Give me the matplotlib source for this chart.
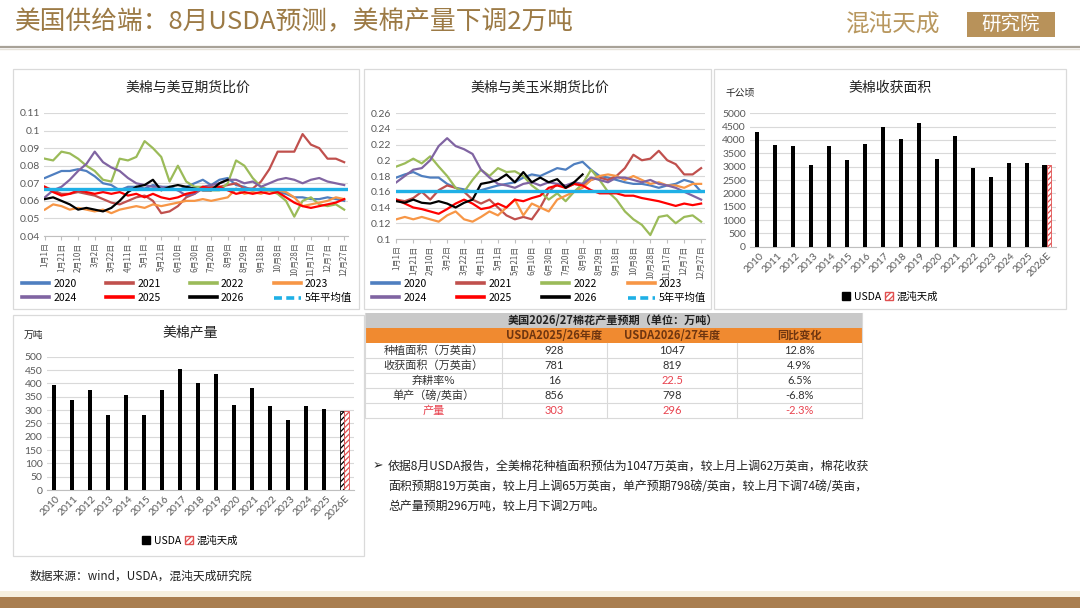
import numpy as np
import matplotlib
matplotlib.use('Agg')
import matplotlib.pyplot as plt
from matplotlib.patches import Rectangle, Patch
from matplotlib.lines import Line2D

plt.rcParams['font.family'] = ['Noto Sans CJK SC', 'DejaVu Sans']
plt.rcParams['hatch.linewidth'] = 0.9

# ---------------- data ----------------
tick_labels = ['1月1日', '1月21日', '2月10日', '3月2日', '3月22日', '4月11日', '5月1日',
               '5月21日', '6月10日', '6月30日', '7月20日', '8月9日', '8月29日', '9月18日',
               '10月8日', '10月28日', '11月17日', '12月7日', '12月27日']
series_names = ['2020', '2021', '2022', '2023', '2024', '2025', '2026']
avg_name = '5年平均值'

# cotton / soybean futures ratio, sampled every 10 days from Jan 1
soy_2020 = [0.073, 0.075, 0.077, 0.077, 0.078, 0.077, 0.074, 0.070, 0.069, 0.066,
            0.068, 0.068, 0.067, 0.069, 0.068, 0.068, 0.066, 0.068, 0.070, 0.072,
            0.069, 0.072, 0.073, 0.069, 0.068, 0.066, 0.067, 0.066, 0.065, 0.064,
            0.062, 0.062, 0.061, 0.061, 0.062, 0.061, 0.060]
soy_2021 = [0.068, 0.066, 0.064, 0.064, 0.065, 0.064, 0.063, 0.061, 0.059, 0.058,
            0.060, 0.062, 0.063, 0.060, 0.053, 0.054, 0.057, 0.062, 0.064, 0.067,
            0.068, 0.068, 0.069, 0.070, 0.067, 0.067, 0.071, 0.078, 0.088, 0.088,
            0.088, 0.098, 0.092, 0.090, 0.084, 0.084, 0.082]
soy_2022 = [0.084, 0.083, 0.088, 0.087, 0.084, 0.080, 0.077, 0.072, 0.071, 0.084,
            0.083, 0.085, 0.094, 0.090, 0.085, 0.071, 0.080, 0.071, 0.068, 0.068,
            0.066, 0.066, 0.070, 0.083, 0.080, 0.073, 0.068, 0.066, 0.064, 0.060,
            0.051, 0.060, 0.062, 0.058, 0.057, 0.058, 0.055]
soy_2023 = [0.055, 0.058, 0.057, 0.055, 0.056, 0.055, 0.054, 0.055, 0.053, 0.055,
            0.056, 0.057, 0.056, 0.058, 0.057, 0.058, 0.059, 0.060, 0.060, 0.061,
            0.060, 0.061, 0.062, 0.067, 0.064, 0.065, 0.064, 0.066, 0.066, 0.065,
            0.062, 0.057, 0.058, 0.059, 0.060, 0.062, 0.061]
soy_2024 = [0.062, 0.066, 0.068, 0.072, 0.077, 0.081, 0.088, 0.082, 0.079, 0.077,
            0.073, 0.070, 0.069, 0.068, 0.068, 0.067, 0.066, 0.063, 0.064, 0.068,
            0.069, 0.070, 0.072, 0.072, 0.070, 0.071, 0.068, 0.070, 0.072, 0.073,
            0.072, 0.070, 0.072, 0.073, 0.071, 0.070, 0.069]
soy_2025 = [0.068, 0.065, 0.063, 0.064, 0.066, 0.065, 0.064, 0.065, 0.064, 0.065,
            0.063, 0.064, 0.062, 0.064, 0.062, 0.061, 0.062, 0.064, 0.065, 0.068,
            0.067, 0.068, 0.066, 0.064, 0.065, 0.064, 0.065, 0.064, 0.065, 0.062,
            0.059, 0.057, 0.056, 0.057, 0.058, 0.059, 0.061]
soy_2026 = [0.061, 0.062, 0.060, 0.058, 0.055, 0.056, 0.055, 0.054, 0.056, 0.060,
            0.065, 0.068, 0.069, 0.072, 0.066, 0.068, 0.069, 0.068, 0.067, 0.066,
            0.066, 0.070, 0.072]
soy_avg = 0.067

# cotton / corn futures ratio, sampled every 10 days from Jan 1
corn_2020 = [0.178, 0.182, 0.185, 0.180, 0.178, 0.178, 0.170, 0.165, 0.163, 0.160,
             0.162, 0.165, 0.168, 0.170, 0.172, 0.178, 0.182, 0.180, 0.185, 0.190,
             0.188, 0.195, 0.198, 0.188, 0.180, 0.178, 0.175, 0.172, 0.170, 0.170,
             0.168, 0.165, 0.168, 0.170, 0.175, 0.172, 0.160]
corn_2021 = [0.150, 0.148, 0.152, 0.160, 0.150, 0.162, 0.168, 0.165, 0.160, 0.150,
             0.145, 0.150, 0.140, 0.130, 0.125, 0.128, 0.125, 0.140, 0.160, 0.170,
             0.165, 0.170, 0.168, 0.175, 0.178, 0.175, 0.180, 0.190, 0.207, 0.200,
             0.202, 0.212, 0.200, 0.195, 0.182, 0.182, 0.190]
corn_2022 = [0.192, 0.196, 0.202, 0.196, 0.205, 0.192, 0.180, 0.165, 0.160, 0.175,
             0.188, 0.180, 0.190, 0.185, 0.186, 0.180, 0.168, 0.160, 0.150, 0.158,
             0.148, 0.160, 0.170, 0.188, 0.175, 0.160, 0.150, 0.135, 0.125, 0.118,
             0.105, 0.128, 0.130, 0.120, 0.128, 0.130, 0.122]
corn_2023 = [0.125, 0.128, 0.125, 0.128, 0.125, 0.122, 0.130, 0.135, 0.125, 0.122,
             0.128, 0.135, 0.130, 0.140, 0.150, 0.130, 0.145, 0.140, 0.135, 0.150,
             0.155, 0.160, 0.165, 0.175, 0.180, 0.182, 0.180, 0.175, 0.180, 0.175,
             0.170, 0.172, 0.168, 0.168, 0.165, 0.170, 0.170]
corn_2024 = [0.172, 0.180, 0.188, 0.190, 0.200, 0.218, 0.228, 0.218, 0.214, 0.208,
             0.188, 0.178, 0.170, 0.168, 0.165, 0.170, 0.172, 0.168, 0.172, 0.170,
             0.168, 0.172, 0.170, 0.178, 0.175, 0.172, 0.178, 0.178, 0.175, 0.172,
             0.175, 0.170, 0.168, 0.165, 0.160, 0.155, 0.150]
corn_2025 = [0.150, 0.145, 0.140, 0.138, 0.135, 0.132, 0.138, 0.145, 0.150, 0.145,
             0.138, 0.140, 0.145, 0.140, 0.150, 0.148, 0.152, 0.155, 0.165, 0.168,
             0.165, 0.170, 0.168, 0.162, 0.158, 0.158, 0.158, 0.155, 0.155, 0.152,
             0.150, 0.148, 0.145, 0.142, 0.145, 0.143, 0.145]
corn_2026 = [0.148, 0.146, 0.150, 0.146, 0.145, 0.148, 0.145, 0.140, 0.146, 0.150,
             0.170, 0.172, 0.175, 0.182, 0.172, 0.185, 0.172, 0.178, 0.172, 0.176,
             0.165, 0.172, 0.182]
corn_avg = 0.161

# bar charts
years = ['2010', '2011', '2012', '2013', '2014', '2015', '2016', '2017', '2018',
         '2019', '2020', '2021', '2022', '2023', '2024', '2025', '2026E']
area_usda = [4310, 3810, 3760, 3050, 3780, 3250, 3850, 4480, 4040, 4650, 3300,
             4150, 2940, 2610, 3150, 3150, 3080]
area_hd = [np.nan] * 16 + [3050]
prod_usda = [395, 338, 376, 281, 356, 281, 374, 455, 400, 434, 319, 381, 315,
             262, 314, 303, 296]
prod_hd = [np.nan] * 16 + [296]

# table
table_title = '美国2026/27棉花产量预期（单位：万吨）'
table_header = ['', 'USDA2025/26年度', 'USDA2026/27年度', '同比变化']
table_rows = ['种植面积（万英亩）', '收获面积（万英亩）', '弃耕率%', '单产（磅/英亩）', '产量']
table_prev = ['928', '781', '16', '856', '303']
table_new = ['1047', '819', '22.5', '798', '296']
table_chg = ['12.8%', '4.9%', '6.5%', '-6.8%', '-2.3%']

bullet_lines = ['依据8月USDA报告，全美棉花种植面积预估为1047万英亩，较上月上调62万英亩，棉花收获',
                '面积预期819万英亩，较上月上调65万英亩，单产预期798磅/英亩，较上月下调74磅/英亩，',
                '总产量预期296万吨，较上月下调2万吨。']

# ---------------- styling ----------------
COLORS = ['#4F7FC0', '#C0504D', '#9BBB59', '#F79646', '#8064A2', '#FF0000', '#000000']
AVG_COLOR = '#1FB0E6'
GOLD = '#9C7A45'
GRID = '#D9D9D9'
TICK = '#595959'
RED = '#E8434F'
NUMFONT = ['Lato', 'Noto Sans CJK SC', 'DejaVu Sans']

W, H = 1080, 608
fig = plt.figure(figsize=(10.8, 6.08), dpi=100)


def rect(x0, y0, x1, y1):
    return [x0 / W, 1 - y1 / H, (x1 - x0) / W, (y1 - y0) / H]


bg = fig.add_axes([0, 0, 1, 1], zorder=0)
bg.set_xlim(0, W)
bg.set_ylim(H, 0)
bg.axis('off')

# header
bg.text(15, 22, '美国供给端：8月USDA预测，美棉产量下调2万吨', color=GOLD,
        fontsize=18.5, va='center', ha='left')
bg.text(846, 24, '混沌天成', color='#B8975E', fontsize=17, va='center', ha='left')
bg.add_patch(Rectangle((967, 12), 88, 25, facecolor='#B8925A', edgecolor='none'))
bg.text(1011, 24.5, '研究院', color='white', fontsize=14, va='center', ha='center')
bg.plot([0, W], [47, 47], color='#A8A298', lw=1.6)
bg.plot([0, W], [49, 49], color='#E6E2DA', lw=1.0)

# footer band
bg.add_patch(Rectangle((0, 591), W, 6, facecolor='#F6F0E0', edgecolor='none'))
bg.add_patch(Rectangle((0, 597), W, 11, facecolor='#A97E50', edgecolor='none'))
bg.text(30, 576, '数据来源：wind，USDA，混沌天成研究院', fontsize=8.5, color='#222222',
        va='center', ha='left')

# panels
for (x0, y0, x1, y1) in [(13, 69, 359, 309), (364, 69, 711, 309),
                         (714, 69, 1066, 309), (13, 315, 364, 556)]:
    bg.add_patch(Rectangle((x0, y0), x1 - x0, y1 - y0, facecolor='white',
                           edgecolor='#DADADA', lw=0.9))

# panel titles
bg.text(188, 88, '美棉与美豆期货比价', fontsize=10, ha='center', va='center', color='#222222')
bg.text(540, 88, '美棉与美玉米期货比价', fontsize=10, ha='center', va='center', color='#222222')
bg.text(890, 88, '美棉收获面积', fontsize=10, ha='center', va='center', color='#222222')
bg.text(740, 93, '千公顷', fontsize=7, ha='center', va='center', color='#222222')
bg.text(190, 332, '美棉产量', fontsize=10, ha='center', va='center', color='#222222')
bg.text(33, 335, '万吨', fontsize=7, ha='center', va='center', color='#222222')


def fmt_num(v):
    return '{:g}'.format(round(v, 3))


def line_panel(box, data, avg, ylo, yhi, ystep, legend_box):
    ax = fig.add_axes(rect(*box), zorder=2)
    ax.set_facecolor('none')
    for name, vals, c in zip(series_names, data, COLORS):
        days = np.arange(len(vals)) * 10
        ax.plot(days, vals, color=c, lw=1.6, solid_joinstyle='round', zorder=3)
    ax.axhline(avg, color=AVG_COLOR, lw=2.4, zorder=4)
    ax.set_xlim(-1, 364)
    ax.set_ylim(ylo, yhi)
    yt = np.round(np.arange(ylo, yhi + ystep / 2, ystep), 3)
    ax.set_yticks(yt)
    ax.set_yticklabels([fmt_num(v) for v in yt], fontsize=7.5, color=TICK, family=NUMFONT)
    ax.set_xticks(np.arange(len(tick_labels)) * 20)
    ax.set_xticklabels(tick_labels, rotation=90, fontsize=5.8, color=TICK)
    ax.grid(axis='y', color=GRID, lw=0.8)
    ax.set_axisbelow(True)
    for s in ['top', 'right', 'left']:
        ax.spines[s].set_visible(False)
    ax.spines['bottom'].set_color('#BFBFBF')
    ax.tick_params(axis='y', length=0, pad=3)
    ax.tick_params(axis='x', length=3, color='#BFBFBF', pad=1.5)
    handles = [Line2D([0], [0], color=c, lw=2.6) for c in COLORS]
    handles.append(Line2D([0], [0], color=AVG_COLOR, lw=2.6, linestyle=(0, (2.2, 1.2))))
    labels = series_names + [avg_name]
    order = [0, 4, 1, 5, 2, 6, 3, 7]
    x0, y0, x1, y1 = legend_box
    ax.legend([handles[i] for i in order], [labels[i] for i in order], ncol=4,
              loc='center', mode='expand',
              bbox_to_anchor=(x0 / W, 1 - y1 / H, (x1 - x0) / W, (y1 - y0) / H),
              bbox_transform=fig.transFigure, frameon=False, fontsize=7.5,
              handlelength=2.6, handletextpad=0.4, labelspacing=0.4,
              borderaxespad=0, borderpad=0)
    return ax


line_panel((44, 113, 347.5, 236), [soy_2020, soy_2021, soy_2022, soy_2023, soy_2024,
                                   soy_2025, soy_2026], soy_avg, 0.04, 0.11, 0.01,
           (22, 275, 352, 307))
line_panel((395.5, 113, 704.5, 239), [corn_2020, corn_2021, corn_2022, corn_2023,
                                      corn_2024, corn_2025, corn_2026], corn_avg,
           0.10, 0.26, 0.02, (372, 275, 706, 307))


def bar_panel(box, usda, hd, ymax, ystep, legend_center, usda_last_hatched):
    ax = fig.add_axes(rect(*box), zorder=2)
    ax.set_facecolor('none')
    x = np.arange(len(years))
    w = 0.23
    bars = ax.bar(x - w / 2, usda, width=w, color='black', zorder=3)
    if usda_last_hatched:
        b = bars[-1]
        b.set_facecolor('white')
        b.set_edgecolor('black')
        b.set_hatch('//////')
        b.set_linewidth(0.6)
    ax.bar(x + w / 2, hd, width=w, facecolor='white', edgecolor='#E05050',
           hatch='//////', lw=0.6, zorder=3)
    ax.set_xlim(-0.5, len(years) - 0.5)
    ax.set_ylim(0, ymax)
    yt = np.arange(0, ymax + 1, ystep)
    ax.set_yticks(yt)
    ax.set_yticklabels([str(int(v)) for v in yt], fontsize=7.5, color=TICK, family=NUMFONT)
    ax.set_xticks(x)
    ax.set_xticklabels(years, rotation=45, ha='right', rotation_mode='anchor',
                       fontsize=7.5, color=TICK, family=NUMFONT)
    ax.grid(axis='y', color=GRID, lw=0.8)
    ax.set_axisbelow(True)
    for s in ['top', 'right', 'left']:
        ax.spines[s].set_visible(False)
    ax.spines['bottom'].set_color('#BFBFBF')
    ax.tick_params(axis='y', length=0, pad=3)
    ax.tick_params(axis='x', length=0, pad=3)
    handles = [Patch(facecolor='black', edgecolor='black'),
               Patch(facecolor='white', edgecolor='#E05050', hatch='//////')]
    cx, cy = legend_center
    ax.legend(handles, ['USDA', '混沌天成'], ncol=2, loc='center',
              bbox_to_anchor=(cx / W, 1 - cy / H), bbox_transform=fig.transFigure,
              frameon=False, fontsize=7.5, handlelength=0.8, handleheight=0.8,
              handletextpad=0.3, columnspacing=0.4, borderpad=0)
    return ax


bar_panel((750, 113.3, 1055.6, 246.7), area_usda, area_hd, 5000, 500, (890, 297), False)
bar_panel((46.7, 356.7, 353.5, 490), prod_usda, prod_hd, 500, 50, (190, 541), True)

# table
cols = [365, 502, 607, 737, 862]
bg.add_patch(Rectangle((365, 313), 497, 15, facecolor='#C9C9C9', edgecolor='none'))
bg.text(613, 320.5, table_title, fontsize=8, ha='center', va='center', color='#222222',
        fontweight='bold')
bg.add_patch(Rectangle((365, 328), 497, 15, facecolor='#F08A30', edgecolor='none'))
for i, t in enumerate(table_header):
    bg.text((cols[i] + cols[i + 1]) / 2, 335.5, t, fontsize=8, ha='center', va='center',
            color='#6E3510', fontweight='bold')
row_h = 15
for r in range(len(table_rows)):
    y0 = 343 + r * row_h
    yc = y0 + row_h / 2
    last = r == len(table_rows) - 1
    cells = [table_rows[r], table_prev[r], table_new[r], table_chg[r]]
    for i, t in enumerate(cells):
        col = '#333333'
        if last or (r == 2 and i == 2):
            col = RED
        bg.text((cols[i] + cols[i + 1]) / 2, yc, t, fontsize=8, ha='center', va='center',
                color=col, family=NUMFONT if i > 0 else None)
    bg.plot([365, 862], [y0 + row_h, y0 + row_h], color='#D9D9D9', lw=0.8)
for xc in cols[1:-1]:
    bg.plot([xc, xc], [343, 418], color='#D9D9D9', lw=0.8)
bg.plot([365, 365], [313, 418], color='#D9D9D9', lw=0.8)
bg.plot([862, 862], [313, 418], color='#D9D9D9', lw=0.8)

# bullet text
bg.text(378, 466, '➢', fontsize=9, ha='center', va='center', color='#222222',
        family=['DejaVu Sans'])
for k, line in enumerate(bullet_lines):
    bg.text(388, 466 + k * 20, line, fontsize=8.6, ha='left', va='center', color='#222222')

fig.savefig('out.png', dpi=100)
